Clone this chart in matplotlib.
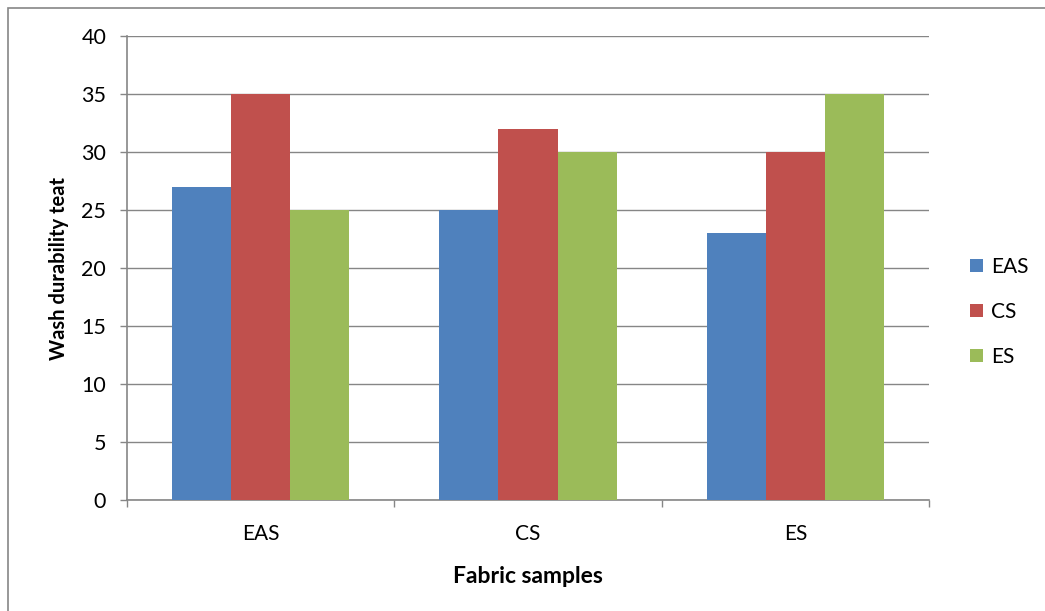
import numpy as np
import matplotlib.pyplot as plt
from matplotlib.patches import Rectangle

plt.rcParams['font.family'] = ['Lato', 'DejaVu Sans']

muestras = ['EAS', 'CS', 'ES']
series = ['EAS', 'CS', 'ES']
valores_eas = [27, 25, 23]
valores_cs = [35, 32, 30]
valores_es = [25, 30, 35]
colores = ['#4f81bd', '#c0504d', '#9bbb59']
gris = '#868686'

fig = plt.figure(figsize=(10.45, 6.11), dpi=100)
ax = fig.add_axes([127 / 1045, 1 - 500 / 611, 802 / 1045, 464 / 611])

# marco exterior del grafico
fig.patches.append(Rectangle((8 / 1045, -0.1), 1.2, 1 - 8 / 611 + 0.1,
                             transform=fig.transFigure, fill=False,
                             edgecolor=gris, linewidth=1.2))

x = np.arange(len(muestras))
ancho = 59 / 267
for i, (nombre, vals) in enumerate(zip(series, [valores_eas, valores_cs, valores_es])):
    ax.bar(x + (i - 1) * ancho, vals, ancho, color=colores[i], label=nombre,
           zorder=3, linewidth=0)

ax.set_xlim(-0.5, 2.5)
ax.set_ylim(0, 40)
ax.set_yticks(range(0, 41, 5))
ax.grid(axis='y', color=gris, linewidth=1, zorder=0)
ax.set_axisbelow(True)

ax.set_xticks(x)
ax.set_xticklabels(muestras)
ax.set_xticks([-0.5, 0.5, 1.5, 2.5], minor=True)
ax.tick_params(axis='x', which='major', length=0, pad=17, labelsize=15)
ax.tick_params(axis='x', which='minor', length=5, color=gris, width=1)
ax.tick_params(axis='y', length=5, color=gris, width=1, pad=10, labelsize=15.5)

for lado in ['top', 'right']:
    ax.spines[lado].set_visible(False)
for lado in ['left', 'bottom']:
    ax.spines[lado].set_color(gris)
    ax.spines[lado].set_linewidth(1.2)

ax.set_xlabel('Fabric samples', fontsize=16.5, fontweight='bold', labelpad=16)
ax.set_ylabel('Wash durability teat', fontsize=14.5, fontweight='bold', labelpad=9)

ax.legend(loc='center left', bbox_to_anchor=(1.028, 0.405), frameon=False,
          fontsize=15, handlelength=0.6, handleheight=0.6, handletextpad=0.4,
          labelspacing=1.2)

fig.savefig('out.png', dpi=100)
